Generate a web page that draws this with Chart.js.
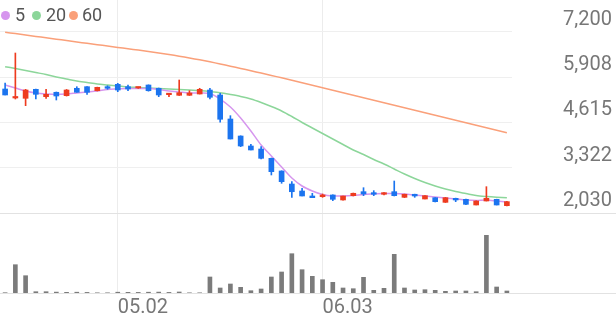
<!DOCTYPE html>
<html>
<head>
<meta charset="utf-8">
<title>chart</title>
<script src="https://cdn.jsdelivr.net/npm/chart.js@4.4.1/dist/chart.umd.min.js"></script>
<style>
  body { margin: 0; background: #fff; }
  .wrap { position: relative; width: 616px; height: 321px; }
  .legend { position: absolute; left: 0; top: 0; font: 18px Roboto, sans-serif; color: #555; }
  .legend .dot { position: absolute; top: 11px; width: 9px; height: 9px; border-radius: 50%; }
  .legend .txt { position: absolute; top: 5px; line-height: 20px; }
</style>
</head>
<body>
<div class="wrap">
  <canvas id="myChart" width="616" height="321"></canvas>
  <div class="legend">
    <span class="dot" style="left:1px;background:rgb(214,150,238)"></span><span class="txt" style="left:15px">5</span>
    <span class="dot" style="left:32px;background:rgb(140,214,154)"></span><span class="txt" style="left:46px">20</span>
    <span class="dot" style="left:69px;background:rgb(250,160,122)"></span><span class="txt" style="left:82px">60</span>
  </div>
</div>
<script>
const dates = ['04.16','04.17','04.18','04.19','04.22','04.23','04.24','04.25','04.26','04.29','04.30',
  '05.02','05.03','05.07','05.08','05.09','05.10','05.13','05.14','05.16','05.17','05.20','05.21','05.22','05.23','05.24','05.27','05.28','05.29','05.30','05.31',
  '06.03','06.04','06.05','06.07','06.10','06.11','06.12','06.13','06.14','06.17','06.18','06.19','06.20','06.21','06.24','06.25','06.26','06.27','06.28'];
const tickLabels = ['05.02', '06.03'];
const priceTicks = [2030, 3322, 4615, 5908, 7200];

const open  = [5572,5315,5306,5563,5352,5478,5381,5592,5638,5523,5638,5706,5638,5600,5686,5592,5410,5392,5392,5429,5543,5401,4715,4229,3944,3858,3592,3230,2858,2658,2516,2497,2545,2402,2525,2639,2611,2565,2639,2478,2565,2430,2468,2335,2449,2421,2259,2373,2421,2240];
const high  = [5743,6600,5563,5572,5563,5486,5558,5638,5640,5625,5666,5734,5686,5625,5690,5600,5432,5829,5523,5592,5592,5449,4810,4235,3992,3924,3600,3235,2924,2735,2593,2573,2550,2516,2600,2753,2668,2615,2944,2570,2568,2530,2470,2475,2455,2425,2380,2782,2425,2360];
const low   = [5401,5286,5095,5286,5306,5258,5370,5478,5420,5515,5563,5495,5523,5590,5510,5352,5352,5387,5387,5429,5286,4621,4144,3925,3830,3573,3116,2878,2478,2516,2468,2478,2382,2395,2516,2525,2525,2545,2516,2470,2478,2430,2345,2330,2354,2270,2259,2373,2259,2230];
const close = [5401,5358,5543,5420,5420,5372,5543,5478,5478,5620,5592,5543,5572,5620,5523,5401,5430,5466,5458,5563,5335,4707,4144,3944,3830,3592,3210,2924,2638,2516,2468,2545,2421,2516,2593,2573,2565,2611,2525,2565,2516,2525,2354,2468,2402,2278,2373,2449,2259,2354];
const volume = [3000,283000,173000,13000,13000,9000,7000,8000,6000,2000,2000,8000,7000,6000,8000,9000,6000,10000,2000,2000,160000,50000,90000,57000,23000,40000,160000,210000,393000,233000,167000,133000,107000,50000,43000,157000,27000,47000,387000,50000,30000,33000,27000,17000,20000,20000,13000,577000,60000,20000];

const ma5  = [5686,5600,5515,5458,5429,5415,5429,5458,5486,5515,5558,5572,5586,5586,5586,5558,5515,5486,5458,5458,5443,5286,5058,4744,4372,3972,3658,3344,3030,2801,2658,2558,2516,2516,2530,2558,2573,2587,2587,2573,2544,2516,2487,2458,2430,2401,2387,2401,2373,2344];
const ma20 = [6209,6157,6100,6043,5986,5915,5858,5800,5758,5715,5686,5658,5629,5615,5600,5586,5572,5558,5543,5529,5500,5466,5415,5358,5286,5186,5072,4944,4786,4615,4458,4301,4144,3987,3830,3701,3558,3430,3287,3144,3016,2901,2801,2716,2644,2587,2530,2501,2481,2467];
const ma60 = [7191,7154,7114,7074,7034,6994,6957,6914,6877,6837,6800,6760,6723,6683,6643,6600,6557,6509,6457,6406,6349,6286,6223,6160,6092,6026,5958,5892,5820,5749,5678,5606,5535,5463,5392,5321,5249,5178,5106,5035,4964,4892,4821,4749,4678,4607,4535,4464,4392,4321];

const candleColor = close.map((c, i) => c >= open[i] ? '#ee3b1f' : '#1b74ef');

Chart.defaults.font.family = 'Roboto';

// lines under price and volume panes run across the whole width
const fullLines = {
  id: 'fullLines',
  beforeDatasetsDraw(chart) {
    const ctx = chart.ctx;
    ctx.save();
    ctx.strokeStyle = '#e2e2e2';
    ctx.lineWidth = 1;
    [chart.scales.y.bottom, chart.scales.yv.bottom].forEach(b => {
      const py = Math.round(b) + 0.5;
      ctx.beginPath();
      ctx.moveTo(0, py);
      ctx.lineTo(chart.width, py);
      ctx.stroke();
    });
    ctx.restore();
  }
};

new Chart(document.getElementById('myChart'), {
  type: 'bar',
  data: {
    labels: dates,
    datasets: [
      { type: 'line', label: '5', data: ma5, borderColor: 'rgb(214,150,238)', borderWidth: 1.5, pointRadius: 0, tension: 0.3, yAxisID: 'y', order: 3 },
      { type: 'line', label: '20', data: ma20, borderColor: 'rgb(140,214,154)', borderWidth: 1.5, pointRadius: 0, tension: 0.3, yAxisID: 'y', order: 4 },
      { type: 'line', label: '60', data: ma60, borderColor: 'rgb(250,160,122)', borderWidth: 1.5, pointRadius: 0, tension: 0.3, yAxisID: 'y', order: 5 },
      { label: 'wick', data: low.map((l, i) => [l, high[i]]), backgroundColor: candleColor, barThickness: 1, grouped: false, yAxisID: 'y', order: 2 },
      { label: 'body', data: open.map((o, i) => [o, close[i]]), backgroundColor: candleColor, barThickness: 5, minBarLength: 1.5, grouped: false, yAxisID: 'y', order: 1 },
      { label: 'volume', data: volume, backgroundColor: '#7b7b7b', barThickness: 4, grouped: false, yAxisID: 'yv', order: 1 }
    ]
  },
  options: {
    responsive: false,
    animation: false,
    layout: { padding: { left: 0, right: 4, top: 0, bottom: 0 } },
    plugins: { legend: { display: false }, tooltip: { enabled: false } },
    scales: {
      x: {
        offset: true,
        grid: { offset: false, color: '#ececec', drawTicks: false },
        border: { display: false },
        ticks: { autoSkip: false, maxRotation: 0, align: 'start', padding: 3, color: '#777', font: { size: 20 } },
        afterBuildTicks: axis => { axis.ticks = axis.ticks.filter(t => tickLabels.includes(dates[t.value])); },
        afterFit: axis => { axis.height = 28; axis.paddingLeft = 0; axis.paddingRight = 0; }
      },
      y: {
        position: 'right', stack: 'main', stackWeight: 213, weight: 0,
        min: 2030, max: 8114,
        grid: { color: '#efefef', drawTicks: false },
        border: { display: false },
        ticks: { crossAlign: 'far', padding: 0, labelOffset: -12, color: '#777', font: { size: 20 },
          callback: v => v.toLocaleString('en-US') },
        afterBuildTicks: axis => { axis.ticks = priceTicks.map(v => ({ value: v })); },
        afterFit: axis => { axis.width = 100; axis.paddingTop = 0; axis.paddingBottom = 0; }
      },
      yv: {
        position: 'right', stack: 'main', stackWeight: 80, weight: 1,
        min: 0, max: 800000,
        grid: { display: false, drawTicks: false },
        border: { display: false },
        ticks: { display: false }
      }
    }
  },
  plugins: [fullLines]
});
</script>
</body>
</html>
